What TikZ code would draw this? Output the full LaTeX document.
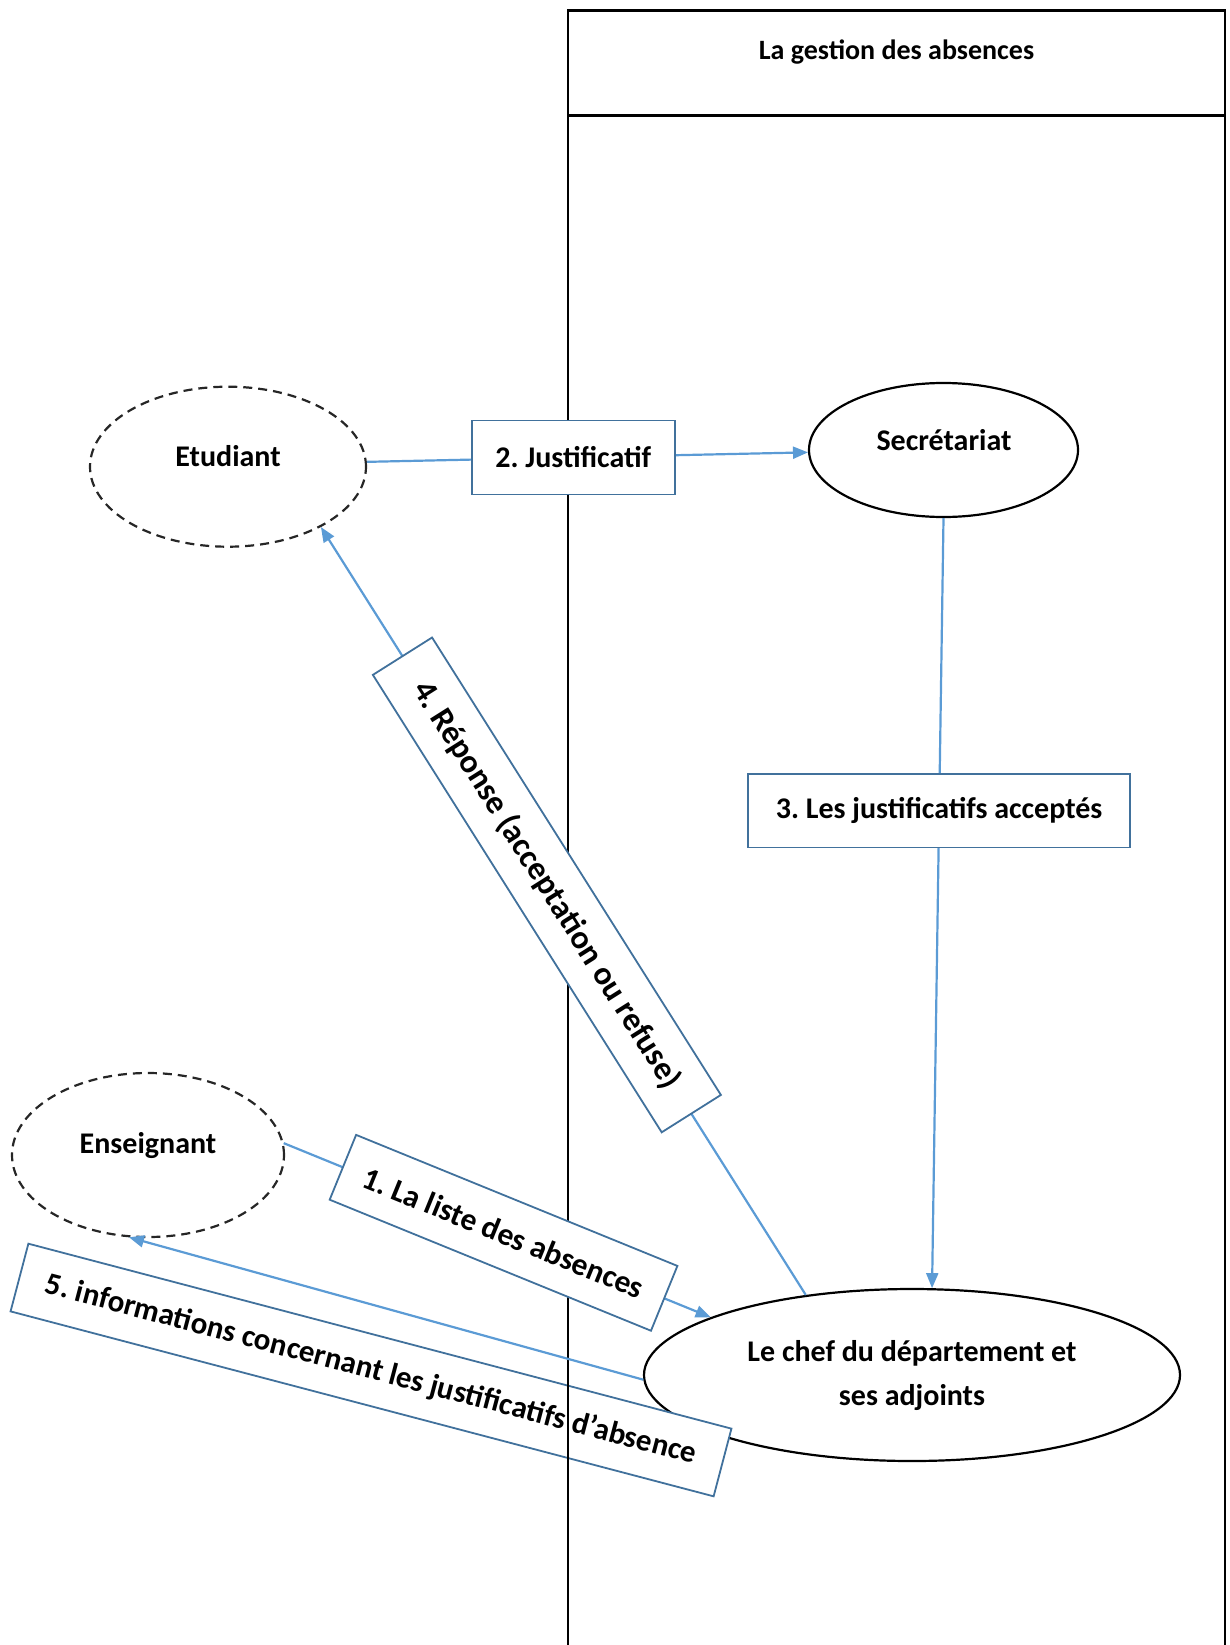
\documentclass[tikz,border=0pt]{standalone}
\usepackage{fontspec}
\setmainfont{Carlito}
\usetikzlibrary{shapes.geometric,arrows.meta}
\frenchspacing

\definecolor{flowblue}{HTML}{5B9BD5}
\definecolor{tagblue}{HTML}{41719C}

\tikzset{
  flow/.style={draw=flowblue, line width=2.2pt},
  arr/.style={-{Triangle[length=15pt,width=12pt]}},
  tag/.style={draw=tagblue, line width=1.8pt, fill=white, inner sep=0pt,
    text=black, font=\bfseries\fontsize{30}{36}\selectfont},
  actor/.style={ellipse, draw=black!85, line width=2.2pt,
    dash pattern=on 9pt off 6pt, inner sep=0pt},
  proc/.style={ellipse, draw=black, line width=2.2pt, inner sep=0pt,
    align=center, font=\bfseries\fontsize{30}{44}\selectfont},
  lbl/.style={anchor=base, font=\bfseries\fontsize{30}{36}\selectfont},
  lane/.style={draw=black, line width=2.4pt},
}

\begin{document}
\begin{tikzpicture}[x=1pt,y=-1pt]
\useasboundingbox (0,0) rectangle (1229,1645);

% actors and processes
\node[actor, minimum width=276pt, minimum height=160pt] (etu) at (228,466.7) {};
\node[lbl] (etuT) at (228,466.7) {Etudiant};

\node[actor, minimum width=272pt, minimum height=164pt] (ens) at (148,1155) {};
\node[lbl] (ensT) at (148,1153.5) {Enseignant};

\node[proc, minimum width=269pt, minimum height=134pt] (sec) at (943.5,450) {};
\node[lbl] (secT) at (944,450) {Secrétariat};

\node[proc, minimum width=536pt, minimum height=172pt] (chef) at (912,1375)
  {Le chef du département et\\ses adjoints};

% free-standing note over the department head
\node[tag, rotate=-14.74, minimum width=727pt, minimum height=70pt,
  font=\bfseries\fontsize{31}{36}\selectfont] (b5) at (371,1370)
  {5. informations concernant les justificatifs d’absence};

% swimlane
\draw[lane] (568,1645) -- (568,10.5) -- (1225,10.5) -- (1225,1645);
\draw[lane] (568,115.5) -- (1225,115.5);
\node[lbl, font=\bfseries\fontsize{28}{34}\selectfont] (title) at (896.5,60)
  {La gestion des absences};

% flows
\draw[flow, arr] (etu.2) -- node[tag, pos=0.468, minimum width=203pt,
  minimum height=74pt] (j2) {2. Justificatif} (sec.181);

\draw[flow, arr] (sec.south) -- node[tag, pos=0.38, minimum width=382pt,
  minimum height=73.5pt] (b3) {3. Les justificatifs acceptés} (chef.77.4);

\draw[flow, arr] (chef.143.7) -- node[tag, sloped, pos=0.534,
  minimum width=541pt, minimum height=70pt,
  font=\bfseries\fontsize{33}{38}\selectfont] (b4)
  {4. Réponse (acceptation ou refuse)} (etu.-33.1);

\draw[flow, arr] (ens.5.6) -- node[tag, sloped, pos=0.515,
  minimum width=347pt, minimum height=70pt,
  font=\bfseries\fontsize{31.5}{36}\selectfont] (b1)
  {1. La liste des absences} (chef.164);

\draw[flow, arr] (chef.181) -- (ens.-103.7);
\end{tikzpicture}
\end{document}
